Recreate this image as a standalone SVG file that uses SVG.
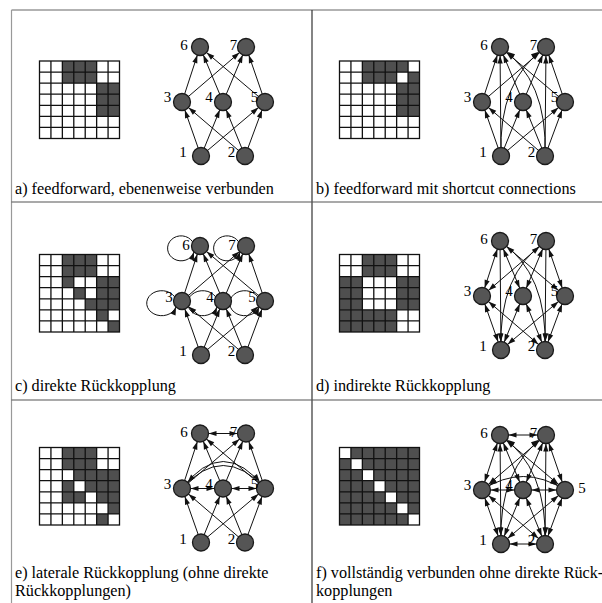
<svg xmlns="http://www.w3.org/2000/svg" xmlns:xlink="http://www.w3.org/1999/xlink" width="602" height="603" viewBox="0 0 602 603">
<style>
.e{fill:none;stroke:#111;stroke-width:1}
.b{marker-end:url(#ah)}
.bb{marker-start:url(#ah);marker-end:url(#ah)}
.lp{marker-end:url(#al)}
.nd{fill:#555;stroke:#1a1a1a;stroke-width:1.3}
.lb{font-family:"Liberation Serif","Times New Roman",serif;font-size:15px;fill:#000;text-anchor:middle}
.cap{font-family:"Liberation Serif","Times New Roman",serif;font-size:16.2px;fill:#000}
.fc{fill:#4f4f4f}
.wc{fill:#fff}
.gl{fill:none;stroke:#111;stroke-width:1.3}
.fr{stroke-width:1.2;fill:none}
</style>
<defs>
<marker id="ah" markerUnits="userSpaceOnUse" markerWidth="17" markerHeight="6" refX="16.5" refY="2.6" orient="auto-start-reverse" overflow="visible"><path d="M0,0 L8,2.6 L0,5.2 z" fill="#111"/></marker>
<marker id="al" markerUnits="userSpaceOnUse" markerWidth="9" markerHeight="6" refX="8" refY="2.6" orient="auto" overflow="visible"><path d="M0,0 L8,2.6 L0,5.2 z" fill="#111"/></marker>
<g id="gl"><rect class="gl" x="0" y="0" width="80" height="77.5"/><path class="gl" d="M11.43,0V77.5M22.86,0V77.5M34.29,0V77.5M45.71,0V77.5M57.14,0V77.5M68.57,0V77.5M0,11.07H80M0,22.14H80M0,33.21H80M0,44.29H80M0,55.36H80M0,66.43H80"/></g>
</defs>
<rect x="0" y="0" width="602" height="603" fill="#fff"/>

<g id="frame">
<path class="fr" stroke="#666" d="M11.5,10H602"/>
<path class="fr" stroke="#999" d="M11.5,10V603"/>
<path class="fr" stroke="#333" d="M312,10V603"/>
<path class="fr" stroke="#555" d="M11.5,202H602M11.5,400H602"/>
</g>

<!-- Matrices -->
<g id="a-matrix" transform="translate(39.5,61)">
<rect class="fc" x="22.86" y="0" width="34.29" height="22.14"/>
<rect class="fc" x="57.14" y="22.14" width="22.86" height="33.21"/>
<use xlink:href="#gl"/>
</g>
<g id="b-matrix" transform="translate(339.5,61)">
<rect class="fc" x="22.86" y="0" width="45.71" height="11.07"/>
<rect class="fc" x="22.86" y="11.07" width="34.29" height="11.07"/>
<rect class="fc" x="68.57" y="11.07" width="11.43" height="11.07"/>
<rect class="fc" x="57.14" y="22.14" width="22.86" height="33.21"/>
<use xlink:href="#gl"/>
</g>
<g id="c-matrix" transform="translate(39.5,254.5)">
<rect class="fc" x="22.86" y="0" width="34.29" height="22.14"/>
<rect class="fc" x="22.86" y="22.14" width="11.43" height="11.07"/>
<rect class="fc" x="57.14" y="22.14" width="22.86" height="22.14"/>
<rect class="fc" x="34.29" y="33.21" width="11.43" height="11.07"/>
<rect class="fc" x="45.71" y="44.29" width="34.29" height="11.07"/>
<rect class="fc" x="57.14" y="55.36" width="11.43" height="11.07"/>
<rect class="fc" x="68.57" y="66.43" width="11.43" height="11.07"/>
<use xlink:href="#gl"/>
</g>
<g id="d-matrix" transform="translate(339.5,254.5)">
<rect class="fc" x="22.86" y="0" width="34.29" height="22.14"/>
<rect class="fc" x="0" y="22.14" width="22.86" height="33.21"/>
<rect class="fc" x="57.14" y="22.14" width="22.86" height="33.21"/>
<rect class="fc" x="0" y="55.36" width="57.14" height="22.14"/>
<use xlink:href="#gl"/>
</g>
<g id="e-matrix" transform="translate(39.5,447.5)">
<rect class="fc" x="22.86" y="0" width="34.29" height="22.14"/>
<rect class="fc" x="34.29" y="22.14" width="45.71" height="11.07"/>
<rect class="fc" x="22.86" y="33.21" width="11.43" height="11.07"/>
<rect class="fc" x="45.71" y="33.21" width="34.29" height="11.07"/>
<rect class="fc" x="22.86" y="44.29" width="22.86" height="11.07"/>
<rect class="fc" x="57.14" y="44.29" width="22.86" height="11.07"/>
<rect class="fc" x="68.57" y="55.36" width="11.43" height="11.07"/>
<rect class="fc" x="57.14" y="66.43" width="11.43" height="11.07"/>
<use xlink:href="#gl"/>
</g>
<g id="f-matrix" transform="translate(339.5,447.5)">
<rect class="fc" x="0" y="0" width="80" height="77.5"/>
<rect class="wc" x="0" y="0" width="11.43" height="11.07"/>
<rect class="wc" x="11.43" y="11.07" width="11.43" height="11.07"/>
<rect class="wc" x="22.86" y="22.14" width="11.43" height="11.07"/>
<rect class="wc" x="34.29" y="33.21" width="11.43" height="11.07"/>
<rect class="wc" x="45.71" y="44.29" width="11.43" height="11.07"/>
<rect class="wc" x="57.14" y="55.36" width="11.43" height="11.07"/>
<rect class="wc" x="68.57" y="66.43" width="11.43" height="11.07"/>
<use xlink:href="#gl"/>
</g>

<!-- Panel a -->
<g id="a-net">
<g id="a-edges">
<path class="e b" d="M201,156L182,102"/><path class="e b" d="M201,156L223,102"/><path class="e b" d="M201,156L265,102"/>
<path class="e b" d="M245,156L182,102"/><path class="e b" d="M245,156L223,102"/><path class="e b" d="M245,156L265,102"/>
<path class="e b" d="M182,102L200,47"/><path class="e b" d="M182,102L246,47"/><path class="e b" d="M223,102L200,47"/>
<path class="e b" d="M223,102L246,47"/><path class="e b" d="M265,102L200,47"/><path class="e b" d="M265,102L246,47"/>
</g>
<g id="a-n1"><circle class="nd" cx="201" cy="156" r="8.5"/><text class="lb" x="183" y="157">1</text></g>
<g id="a-n2"><circle class="nd" cx="245" cy="156" r="8.5"/><text class="lb" x="231.5" y="157">2</text></g>
<g id="a-n3"><circle class="nd" cx="182" cy="102" r="8.5"/><text class="lb" x="167.5" y="102">3</text></g>
<g id="a-n4"><circle class="nd" cx="223" cy="102" r="8.5"/><text class="lb" x="209" y="102">4</text></g>
<g id="a-n5"><circle class="nd" cx="265" cy="102" r="8.5"/><text class="lb" x="254.5" y="102">5</text></g>
<g id="a-n6"><circle class="nd" cx="200" cy="47" r="8.5"/><text class="lb" x="184" y="50">6</text></g>
<g id="a-n7"><circle class="nd" cx="246" cy="47" r="8.5"/><text class="lb" x="233.5" y="50">7</text></g>
</g>

<!-- Panel b -->
<g id="b-net" transform="translate(300,0)">
<g id="b-edges">
<path class="e b" d="M201,156L182,102"/><path class="e b" d="M201,156L223,102"/><path class="e b" d="M201,156L265,102"/>
<path class="e b" d="M245,156L182,102"/><path class="e b" d="M245,156L223,102"/><path class="e b" d="M245,156L265,102"/>
<path class="e b" d="M182,102L200,47"/><path class="e b" d="M182,102L246,47"/><path class="e b" d="M223,102L200,47"/>
<path class="e b" d="M223,102L246,47"/><path class="e b" d="M265,102L200,47"/><path class="e b" d="M265,102L246,47"/>
<path class="e b" d="M201,156L200,47"/><path class="e b" d="M245,156L246,47"/>
<path class="e b" d="M201,156Q198,80 246,47"/><path class="e b" d="M245,156Q248,80 200,47"/>
</g>
<g id="b-n1"><circle class="nd" cx="201" cy="156" r="8.5"/><text class="lb" x="183" y="157">1</text></g>
<g id="b-n2"><circle class="nd" cx="245" cy="156" r="8.5"/><text class="lb" x="231.5" y="157">2</text></g>
<g id="b-n3"><circle class="nd" cx="182" cy="102" r="8.5"/><text class="lb" x="167.5" y="102">3</text></g>
<g id="b-n4"><circle class="nd" cx="223" cy="102" r="8.5"/><text class="lb" x="209" y="102">4</text></g>
<g id="b-n5"><circle class="nd" cx="265" cy="102" r="8.5"/><text class="lb" x="254.5" y="102">5</text></g>
<g id="b-n6"><circle class="nd" cx="200" cy="47" r="8.5"/><text class="lb" x="184" y="50">6</text></g>
<g id="b-n7"><circle class="nd" cx="246" cy="47" r="8.5"/><text class="lb" x="233.5" y="50">7</text></g>
</g>

<!-- Panel c -->
<g id="c-net" transform="translate(0,199)">
<g id="c-edges">
<path class="e b" d="M201,156L182,102"/><path class="e b" d="M201,156L223,102"/><path class="e b" d="M201,156L265,102"/>
<path class="e b" d="M245,156L182,102"/><path class="e b" d="M245,156L223,102"/><path class="e b" d="M245,156L265,102"/>
<path class="e b" d="M182,102L200,47"/><path class="e b" d="M182,102L246,47"/><path class="e b" d="M223,102L200,47"/>
<path class="e b" d="M223,102L246,47"/><path class="e b" d="M265,102L200,47"/><path class="e b" d="M265,102L246,47"/>
<path class="e lp" d="M174.6,97.8A15,12.5 0 1 0 176,108"/>
<path class="e lp" d="M215.6,97.8A15,12.5 0 1 0 217,108"/>
<path class="e lp" d="M257.6,97.8A15,12.5 0 1 0 259,108"/>
<path class="e lp" d="M192.6,42.8A13.5,12.5 0 1 0 194,53"/>
<path class="e lp" d="M238.6,42.8A13.5,12.5 0 1 0 240,53"/>
</g>
<g id="c-n1"><circle class="nd" cx="201" cy="156" r="8.5"/><text class="lb" x="183" y="157">1</text></g>
<g id="c-n2"><circle class="nd" cx="245" cy="156" r="8.5"/><text class="lb" x="231.5" y="157">2</text></g>
<g id="c-n3"><circle class="nd" cx="182" cy="102" r="8.5"/><text class="lb" x="169" y="103">3</text></g>
<g id="c-n4"><circle class="nd" cx="223" cy="102" r="8.5"/><text class="lb" x="210" y="103">4</text></g>
<g id="c-n5"><circle class="nd" cx="265" cy="102" r="8.5"/><text class="lb" x="252" y="103">5</text></g>
<g id="c-n6"><circle class="nd" cx="200" cy="47" r="8.5"/><text class="lb" x="186" y="51">6</text></g>
<g id="c-n7"><circle class="nd" cx="246" cy="47" r="8.5"/><text class="lb" x="232" y="51">7</text></g>
</g>

<!-- Panel d -->
<g id="d-net" transform="translate(300,194)">
<g id="d-edges">
<path class="e bb" d="M201,156L182,102"/><path class="e bb" d="M201,156L223,102"/><path class="e bb" d="M201,156L265,102"/>
<path class="e bb" d="M245,156L182,102"/><path class="e bb" d="M245,156L223,102"/><path class="e bb" d="M245,156L265,102"/>
<path class="e bb" d="M182,102L200,47"/><path class="e bb" d="M182,102L246,47"/><path class="e bb" d="M223,102L200,47"/>
<path class="e bb" d="M223,102L246,47"/><path class="e bb" d="M265,102L200,47"/><path class="e bb" d="M265,102L246,47"/>
<path class="e b" d="M200,47L201,156"/><path class="e b" d="M246,47L245,156"/>
<path class="e b" d="M200,47Q248,80 245,156"/><path class="e b" d="M246,47Q198,80 201,156"/>
</g>
<g id="d-n1"><circle class="nd" cx="201" cy="156" r="8.5"/><text class="lb" x="183" y="157">1</text></g>
<g id="d-n2"><circle class="nd" cx="245" cy="156" r="8.5"/><text class="lb" x="231.5" y="157">2</text></g>
<g id="d-n3"><circle class="nd" cx="182" cy="102" r="8.5"/><text class="lb" x="167.5" y="102">3</text></g>
<g id="d-n4"><circle class="nd" cx="223" cy="102" r="8.5"/><text class="lb" x="209" y="102">4</text></g>
<g id="d-n5"><circle class="nd" cx="265" cy="102" r="8.5"/><text class="lb" x="254.5" y="102">5</text></g>
<g id="d-n6"><circle class="nd" cx="200" cy="47" r="8.5"/><text class="lb" x="184" y="50">6</text></g>
<g id="d-n7"><circle class="nd" cx="246" cy="47" r="8.5"/><text class="lb" x="233.5" y="50">7</text></g>
</g>

<!-- Panel e -->
<g id="e-net" transform="translate(0,386.5)">
<g id="e-edges">
<path class="e b" d="M201,156L182,102"/><path class="e b" d="M201,156L223,102"/><path class="e b" d="M201,156L265,102"/>
<path class="e b" d="M245,156L182,102"/><path class="e b" d="M245,156L223,102"/><path class="e b" d="M245,156L265,102"/>
<path class="e b" d="M182,102L200,47"/><path class="e b" d="M182,102L246,47"/><path class="e b" d="M223,102L200,47"/>
<path class="e b" d="M223,102L246,47"/><path class="e b" d="M265,102L200,47"/><path class="e b" d="M265,102L246,47"/>
<path class="e bb" d="M200,47L246,47"/><path class="e bb" d="M182,102L223,102"/><path class="e bb" d="M223,102L265,102"/>
<path class="e b" d="M182,102Q223,48 265,102"/><path class="e b" d="M265,102Q223,56 182,102"/>
</g>
<g id="e-n1"><circle class="nd" cx="201" cy="156" r="8.5"/><text class="lb" x="183" y="157">1</text></g>
<g id="e-n2"><circle class="nd" cx="245" cy="156" r="8.5"/><text class="lb" x="231.5" y="157">2</text></g>
<g id="e-n3"><circle class="nd" cx="182" cy="102" r="8.5"/><text class="lb" x="167.5" y="102">3</text></g>
<g id="e-n4"><circle class="nd" cx="223" cy="102" r="8.5"/><text class="lb" x="209" y="102">4</text></g>
<g id="e-n5"><circle class="nd" cx="265" cy="102" r="8.5"/><text class="lb" x="254.5" y="102">5</text></g>
<g id="e-n6"><circle class="nd" cx="200" cy="47" r="8.5"/><text class="lb" x="184" y="50">6</text></g>
<g id="e-n7"><circle class="nd" cx="246" cy="47" r="8.5"/><text class="lb" x="233.5" y="50">7</text></g>
</g>

<!-- Panel f -->
<g id="f-net" transform="translate(300,388)">
<g id="f-edges">
<path class="e bb" d="M201,156L182,102"/><path class="e bb" d="M201,156L223,102"/><path class="e bb" d="M201,156L265,102"/>
<path class="e bb" d="M245,156L182,102"/><path class="e bb" d="M245,156L223,102"/><path class="e bb" d="M245,156L265,102"/>
<path class="e bb" d="M182,102L200,47"/><path class="e bb" d="M182,102L246,47"/><path class="e bb" d="M223,102L200,47"/>
<path class="e bb" d="M223,102L246,47"/><path class="e bb" d="M265,102L200,47"/><path class="e bb" d="M265,102L246,47"/>
<path class="e bb" d="M201,156L200,47"/><path class="e bb" d="M245,156L246,47"/>
<path class="e bb" d="M201,156Q198,80 246,47"/><path class="e bb" d="M245,156Q248,80 200,47"/>
<path class="e bb" d="M200,47L246,47"/><path class="e bb" d="M201,156L245,156"/>
<path class="e bb" d="M182,102L223,102"/><path class="e bb" d="M223,102L265,102"/>
<path class="e bb" d="M182,102Q223,75 265,102"/>
</g>
<g id="f-n1"><circle class="nd" cx="201" cy="156" r="8.5"/><text class="lb" x="183" y="157">1</text></g>
<g id="f-n2"><circle class="nd" cx="245" cy="156" r="8.5"/><text class="lb" x="231.5" y="157">2</text></g>
<g id="f-n3"><circle class="nd" cx="182" cy="102" r="8.5"/><text class="lb" x="167.5" y="102">3</text></g>
<g id="f-n4"><circle class="nd" cx="223" cy="102" r="8.5"/><text class="lb" x="209" y="102">4</text></g>
<g id="f-n5"><circle class="nd" cx="265" cy="102" r="8.5"/><text class="lb" x="282" y="105">5</text></g>
<g id="f-n6"><circle class="nd" cx="200" cy="47" r="8.5"/><text class="lb" x="184" y="50">6</text></g>
<g id="f-n7"><circle class="nd" cx="246" cy="47" r="8.5"/><text class="lb" x="233.5" y="50">7</text></g>
</g>

<!-- Captions -->
<g id="captions">
<text class="cap" x="15" y="194">a) feedforward, ebenenweise verbunden</text>
<text class="cap" x="316" y="194">b) feedforward mit shortcut connections</text>
<text class="cap" x="15" y="391">c) direkte Rückkopplung</text>
<text class="cap" x="316" y="391">d) indirekte Rückkopplung</text>
<text class="cap" x="15" y="578">e) laterale Rückkopplung (ohne direkte</text>
<text class="cap" x="15" y="596">Rückkopplungen)</text>
<text class="cap" x="316" y="578">f) vollständig verbunden ohne direkte Rück-</text>
<text class="cap" x="316" y="596">kopplungen</text>
</g>
</svg>
